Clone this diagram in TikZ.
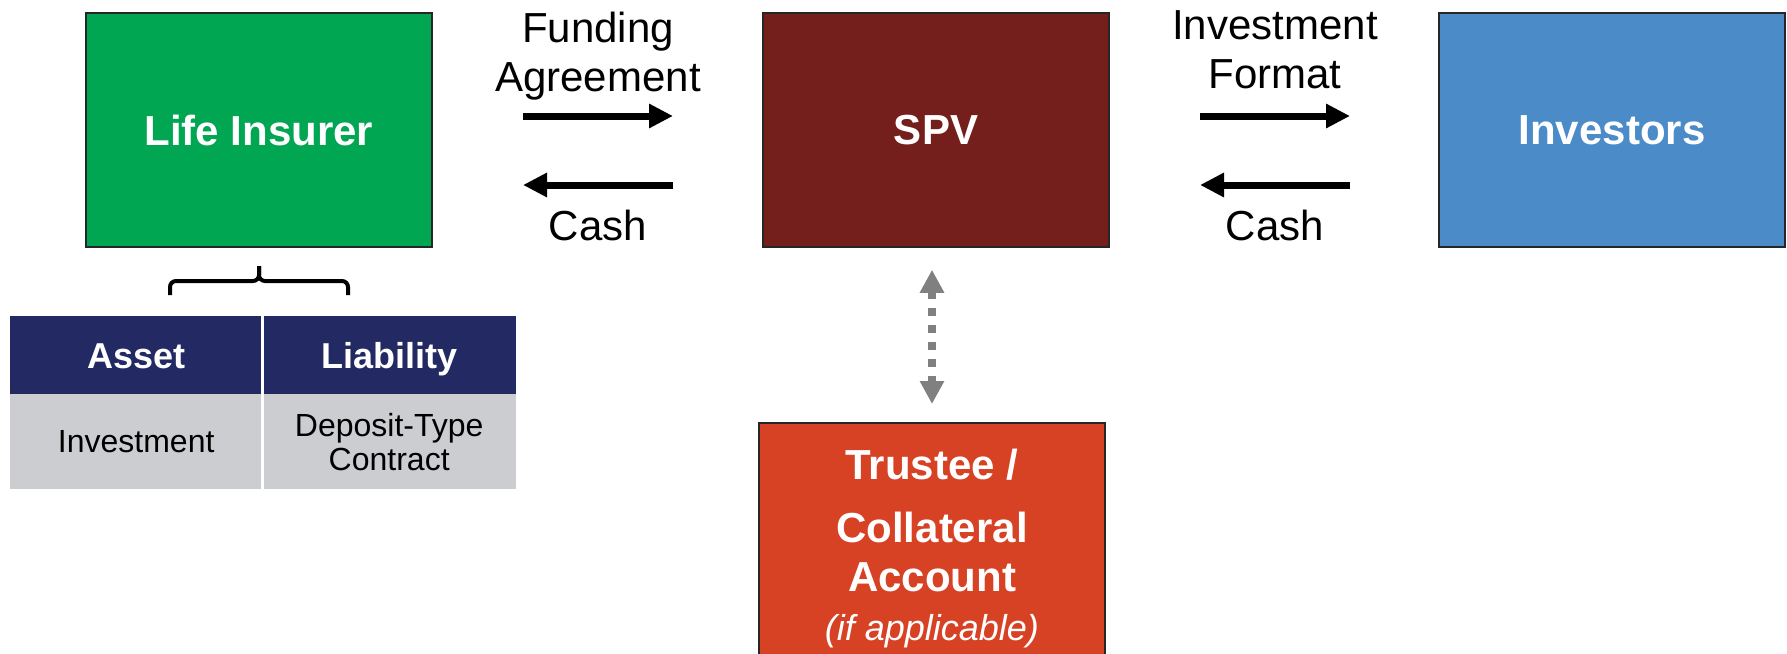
\documentclass[tikz,border=0pt]{standalone}
\usepackage{fontspec}
\setmainfont{Liberation Sans}
\usetikzlibrary{arrows.meta}
\definecolor{insgreen}{RGB}{0,166,81}
\definecolor{spvred}{RGB}{116,31,28}
\definecolor{invblue}{RGB}{74,139,200}
\definecolor{trustred}{RGB}{215,65,36}
\definecolor{tabnavy}{RGB}{35,42,99}
\definecolor{tabgray}{RGB}{204,205,209}
\definecolor{linkgray}{RGB}{128,128,128}
\begin{document}
\begin{tikzpicture}[x=1pt, y=-1pt,
    party/.style={draw=black!85, line width=1.5pt, text=white, inner sep=0pt,
        font=\bfseries\fontsize{42}{49}\selectfont, minimum width=346pt},
    lbl/.style={font=\fontsize{42}{49}\selectfont, align=center, inner sep=0pt},
    flow/.style={line width=7pt, -{Triangle[length=24pt, width=23pt]}},
    cellhead/.style={fill=tabnavy, text=white, inner sep=0pt, anchor=north west,
        font=\bfseries\fontsize{36}{40}\selectfont, minimum height=78pt,
        text height=26pt, text depth=0pt},
    cellbody/.style={fill=tabgray, inner sep=0pt, anchor=north west, align=center,
        font=\fontsize{32}{34}\selectfont, minimum height=95pt}]
    \clip (0,0) rectangle (1787,653);
    % the three parties
    \node[party, fill=insgreen, minimum height=234pt] (life) at (259, 130) {Life Insurer};
    \node[party, fill=spvred, minimum height=234pt] (spv) at (936, 130) {SPV};
    \node[party, fill=invblue, minimum height=234pt] (inv) at (1612, 130) {Investors};
    % flows between them
    \coordinate (fa-from) at (523, 116);
    \coordinate (fa-to) at (673, 116);
    \coordinate (cl-from) at (673, 185);
    \coordinate (cl-to) at (523, 185);
    \draw[flow] (fa-from) -- (fa-to);
    \draw[flow] (cl-from) -- (cl-to);
    \node[lbl, anchor=north] (fund) at (598, 12) {Funding\\Agreement};
    \node[lbl, anchor=base] (cashl) at (598, 240.5) {Cash};
    \coordinate (if-from) at (1200, 116);
    \coordinate (if-to) at (1350, 116);
    \coordinate (cr-from) at (1350, 185);
    \coordinate (cr-to) at (1200, 185);
    \draw[flow] (if-from) -- (if-to);
    \draw[flow] (cr-from) -- (cr-to);
    \node[lbl, anchor=north] (invfmt) at (1275, 10) {Investment\\Format};
    \node[lbl, anchor=base] (cashr) at (1275, 240.5) {Cash};
    % balance sheet of the insurer
    \draw[line width=4pt, rounded corners=6pt] (170, 295) |- (259, 281) -- (259, 266);
    \draw[line width=4pt, rounded corners=6pt] (259, 266) -- (259, 281) -| (348, 295);
    \node[cellhead, minimum width=252pt] (asset) at (10, 316) {Asset};
    \node[cellhead, minimum width=254pt] (liab) at (262, 316) {Liability};
    \node[cellbody, minimum width=252pt] (invest) at (10, 394) {Investment};
    \node[cellbody, minimum width=254pt] (deposit) at (262, 394) {Deposit-Type\\Contract};
    \draw[white, line width=3pt] (asset.north east) -- (invest.south east);
    % trustee
    \node[party, fill=trustred, minimum height=260pt, anchor=north] (trustee) at (932, 422) {};
    \node[lbl, text=white, anchor=north, font=\bfseries\fontsize{42}{49}\selectfont] (trusttxt) at (932, 449)
        {Trustee /\\[14pt]Collateral\\Account\\{\mdseries\itshape\fontsize{36}{42}\selectfont (if applicable)}};
    \draw[linkgray, line width=8pt, dash pattern=on 8pt off 9pt,
        {Triangle[length=23pt, width=23pt]}-{Triangle[length=23pt, width=23pt]},
        shorten <=22pt, shorten >=18pt] (trustee.north |- spv.south) -- (trustee.north);
\end{tikzpicture}
\end{document}
